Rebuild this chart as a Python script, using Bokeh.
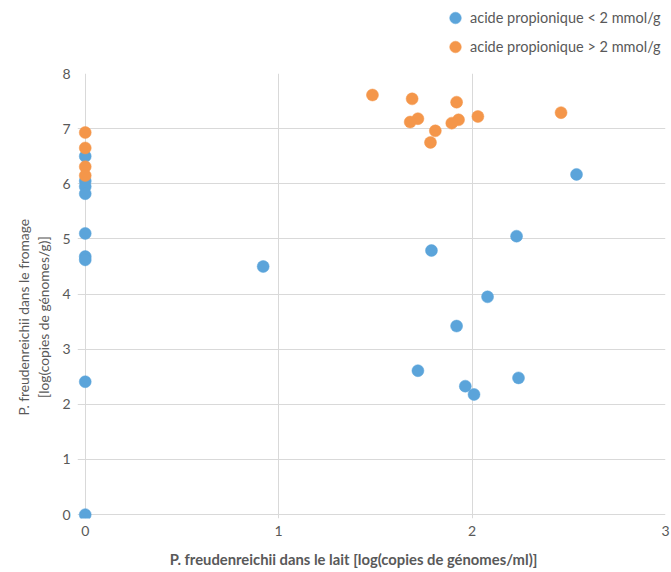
from bokeh.plotting import figure
from bokeh.layouts import column
from bokeh.models import ColumnDataSource, FixedTicker, Legend, LegendItem, Range1d
from bokeh.embed import file_html
from bokeh.resources import INLINE

# Data
blue_x = [0, 0, 0, 0, 0, 0, 0, 0, 0, 0.92, 1.79, 2.23, 2.54, 2.08, 1.92, 1.72, 1.965, 2.01, 2.24]
blue_y = [6.50, 6.05, 5.95, 5.82, 5.10, 4.68, 4.62, 2.41, 0.0, 4.50, 4.79, 5.05, 6.17, 3.95, 3.42, 2.61, 2.33, 2.18, 2.48]
orange_x = [0, 0, 0, 0, 1.485, 1.69, 1.92, 2.46, 2.03, 1.72, 1.68, 1.93, 1.895, 1.81, 1.785]
orange_y = [6.93, 6.65, 6.31, 6.15, 7.61, 7.54, 7.48, 7.29, 7.22, 7.18, 7.12, 7.16, 7.10, 6.96, 6.75]
x_ticks = [0, 1, 2, 3]
y_ticks = [0, 1, 2, 3, 4, 5, 6, 7, 8]
series_names = ["acide propionique < 2 mmol/g", "acide propionique > 2 mmol/g"]
x_title = "P. freudenreichii dans le lait [log(copies de génomes/ml)]"
y_title_1 = "P. freudenreichii dans le fromage"
y_title_2 = "[log(copies de génomes/g)]"

BLUE = "#5BA4DA"
ORANGE = "#F4964A"
GREY = "#595959"
GRID = "#D9D9D9"
FONT = "Lato"
NB = "\u00a0"

src_b = ColumnDataSource(dict(x=blue_x, y=blue_y))
src_o = ColumnDataSource(dict(x=orange_x, y=orange_y))

# ---- legend strip (top); its ranges keep the data itself out of view ----
leg_fig = figure(width=671, height=65, x_axis_type=None, y_axis_type=None,
                 x_range=Range1d(100, 101), y_range=Range1d(100, 101),
                 min_border=0, toolbar_location=None, output_backend="svg")
leg_fig.outline_line_color = None
leg_fig.grid.visible = False
lb = leg_fig.scatter("x", "y", source=src_b, size=12, fill_color=BLUE, line_color=BLUE, line_width=0.5)
lo = leg_fig.scatter("x", "y", source=src_o, size=12, fill_color=ORANGE, line_color=ORANGE, line_width=0.5)
legend = Legend(items=[LegendItem(label=series_names[0], renderers=[lb]),
                       LegendItem(label=series_names[1], renderers=[lo])],
                location=(363, 4), orientation="vertical",
                glyph_width=30, glyph_height=29, label_height=29, spacing=0,
                padding=0, margin=0, label_standoff=0,
                label_text_font=FONT, label_text_font_size="14.5px", label_text_color=GREY,
                background_fill_alpha=0, border_line_color=None)
leg_fig.add_layout(legend, "center")

# ---- main plot ----
p = figure(width=671, height=507, output_backend="svg", toolbar_location=None,
           x_range=Range1d(-0.04, 3), y_range=Range1d(-0.07, 8),
           min_border_left=77, min_border_right=6, min_border_top=8, min_border_bottom=54)
p.outline_line_color = None
p.background_fill_color = "white"
p.border_fill_color = "white"

for ax, ticks in ((p.xaxis[0], x_ticks), (p.yaxis[0], y_ticks)):
    ax.ticker = FixedTicker(ticks=ticks)
    ax.axis_line_color = None
    ax.major_tick_line_color = None
    ax.minor_tick_line_color = None
    ax.major_tick_out = 0
    ax.major_tick_in = 0
    ax.major_label_text_font = FONT
    ax.major_label_text_font_size = "14px"
    ax.major_label_text_color = GREY
    ax.axis_label_text_font = FONT
    ax.axis_label_text_color = GREY
p.xaxis[0].major_label_standoff = 7
p.yaxis[0].major_label_standoff = 7

p.xaxis[0].axis_label = x_title + NB * 10
p.xaxis[0].axis_label_text_font_size = "14.8px"
p.xaxis[0].axis_label_text_font_style = "bold"
p.xaxis[0].axis_label_standoff = 11

p.yaxis[0].axis_label = y_title_1 + NB * 12 + "\n" + y_title_2 + NB * 12
p.yaxis[0].axis_label_text_font_size = "13.8px"
p.yaxis[0].axis_label_text_font_style = "normal"
p.yaxis[0].axis_label_standoff = 7

p.xgrid.ticker = FixedTicker(ticks=x_ticks)
p.ygrid.ticker = FixedTicker(ticks=y_ticks)
p.grid.grid_line_color = GRID
p.grid.grid_line_width = 1

p.scatter("x", "y", source=src_b, size=12, fill_color=BLUE, line_color=BLUE, line_width=0.5)
p.scatter("x", "y", source=src_o, size=12, fill_color=ORANGE, line_color=ORANGE, line_width=0.5)

layout = column(leg_fig, p, spacing=0)
open("out.html", "w").write(file_html(layout, INLINE))
